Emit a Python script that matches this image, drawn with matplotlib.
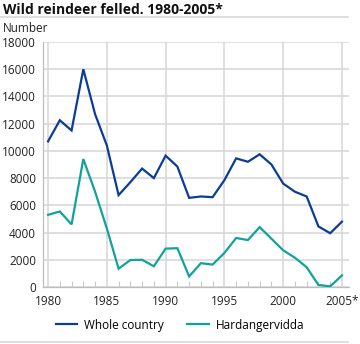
import matplotlib
matplotlib.use("Agg")
import matplotlib.pyplot as plt
from matplotlib.ticker import MultipleLocator

years = list(range(1980, 2006))
whole_country = [10700, 12250, 11500, 16000, 12700, 10400, 6750, 7700, 8700, 8000,
                 9650, 8850, 6550, 6650, 6600, 7850, 9450, 9200, 9750, 9000,
                 7600, 7000, 6650, 4450, 3950, 4800]
hardangervidda = [5300, 5550, 4600, 9400, 7000, 4300, 1350, 1980, 2000, 1520,
                  2820, 2850, 780, 1750, 1650, 2500, 3600, 3450, 4400, 3550,
                  2700, 2150, 1450, 150, 50, 850]
xtick_pos = [1980, 1985, 1990, 1995, 2000, 2005]
xtick_labels = ["1980", "1985", "1990", "1995", "2000", "2005*"]
ytick_pos = list(range(0, 18001, 2000))
series_names = ["Whole country", "Hardangervidda"]

plt.rcParams['font.family'] = ['Open Sans', 'DejaVu Sans']

W, H = 360, 344
fig = plt.figure(figsize=(W / 100, H / 100), dpi=100)
ax = fig.add_axes([43 / W, 1 - 287 / H, (349 - 43) / W, (287 - 42) / H])

blue = '#0b3c96'
teal = '#10a39b'
grid = '#d6d6d6'

l1, = ax.plot(years, whole_country, color=blue, lw=1.6, solid_joinstyle='miter', zorder=3)
l2, = ax.plot(years, hardangervidda, color=teal, lw=1.6, solid_joinstyle='miter', zorder=3)

ax.set_xlim(1979.57, 2005.6)
ax.set_ylim(0, 18000)
ax.set_xticks(xtick_pos)
ax.set_xticklabels(xtick_labels)
ax.set_yticks(ytick_pos)
ax.set_yticklabels([str(v) for v in ytick_pos])
ax.xaxis.set_minor_locator(MultipleLocator(1))

ax.grid(True, which='major', color=grid, lw=1.1, zorder=0)
ax.tick_params(axis='x', which='major', length=0, pad=6, labelsize=8.5, colors='#222222')
ax.tick_params(axis='x', which='minor', direction='in', length=4, width=0.8, color='#c8c8c8')
ax.tick_params(axis='y', which='major', length=0, pad=5, labelsize=8.5, colors='#222222')

for s in ['top', 'right']:
    ax.spines[s].set_visible(False)
for s in ['left', 'bottom']:
    ax.spines[s].set_color('#bdbdbd')
    ax.spines[s].set_linewidth(0.9)

fig.text(3 / W, 1 - 10 / H, "Wild reindeer felled. 1980-2005*", fontsize=10,
         fontweight='bold', va='center', ha='left', color='#111111')
fig.text(3 / W, 1 - 28 / H, "Number", fontsize=8.5, va='center', ha='left', color='#222222')

fig.add_artist(plt.Line2D([0, 348 / W], [1 - 16.5 / H, 1 - 16.5 / H], color='#d9d9d9', lw=1.2))
fig.add_artist(plt.Line2D([0, 348 / W], [1 - 342 / H, 1 - 342 / H], color='#d9d9d9', lw=1.2))

fig.legend([l1, l2], series_names, loc='center', bbox_to_anchor=(180 / W, 1 - 325 / H),
           ncol=2, frameon=False, fontsize=8.5, handlelength=1.8, columnspacing=2.0,
           handletextpad=0.6)

fig.savefig("out.png", dpi=100)
